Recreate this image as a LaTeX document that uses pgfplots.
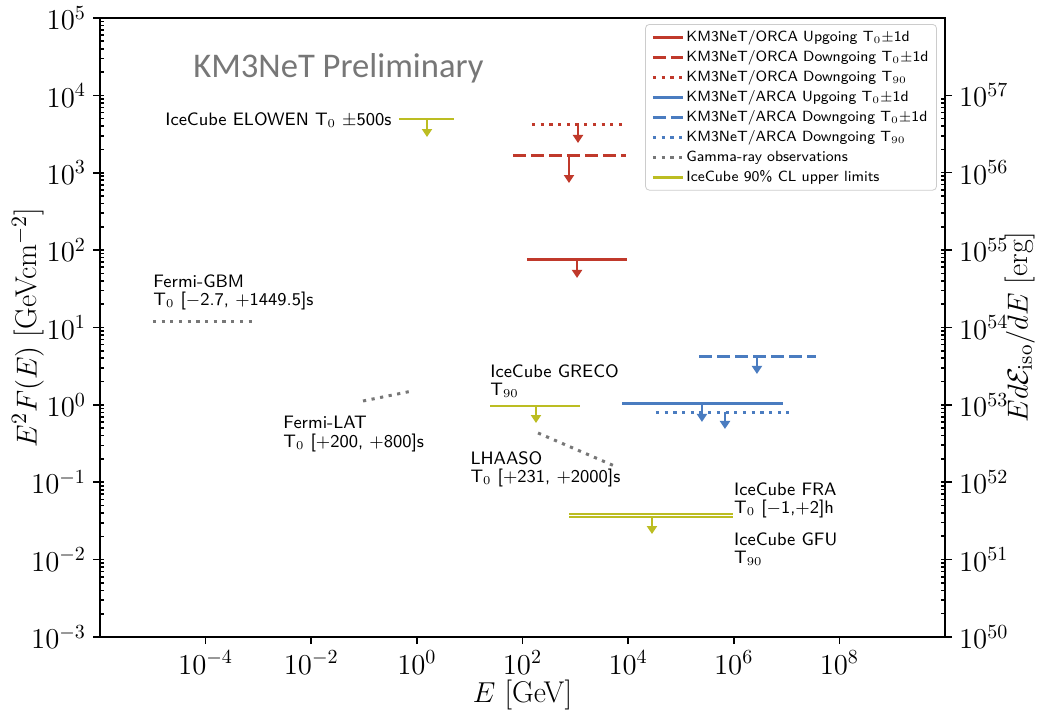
\documentclass[border=0pt]{standalone}
\usepackage{fontspec}
\usepackage{pgfplots}
\pgfplotsset{compat=1.18}
\usetikzlibrary{arrows.meta}
\newfontfamily\carlito{Carlito}
\definecolor{kred}{HTML}{C0392B}
\definecolor{kblue}{HTML}{4A7CC0}
\definecolor{kolive}{HTML}{BCBD22}
\definecolor{kgray}{HTML}{777777}
\tikzset{
  dotpat/.style={dash pattern=on 1.6pt off 2.75pt},
  dashpat/.style={dash pattern=on 6.5pt off 2.5pt},
  arr/.style={line width=1.2pt, -{Triangle[length=4pt,width=5pt]}},
  ann/.style={anchor=west, align=left, inner sep=0pt, font=\fontsize{9.0}{9.3}\sffamily},
}
\begin{document}
\begin{tikzpicture}
\path[use as bounding box] (-50pt,-37.5pt) rectangle (469pt,318.5pt);
\begin{axis}[
  at={(0,0)}, anchor=south west,
  scale only axis, width=422.5pt, height=309.5pt,
  xmode=log, ymode=log,
  xmin=1e-6, xmax=1e10, ymin=1e-3, ymax=1e5,
  xtick={1e-4,1e-2,1,1e2,1e4,1e6,1e8},
  ytick={1e-3,1e-2,1e-1,1,1e1,1e2,1e3,1e4,1e5},
  xminorticks=false,
  xtick pos=bottom, ytick pos=left,
  tick align=outside, major tick length=3.5pt, minor tick length=2pt,
  minor tick style={xshift=2pt},
  tick style={line width=0.8pt, black},
  axis line style={line width=0.9pt},
  ticklabel style={font=\fontsize{14}{16}\selectfont},
  label style={font=\fontsize{15}{17}\selectfont},
  xlabel={$E$ [GeV]},
  ylabel={$E^2F(E)$ [GeVcm$^{-2}$]},
  xlabel style={at={(axis description cs:0.5,-0.093)}, anchor=center},
  ylabel style={at={(axis description cs:-0.0852,0.5)}, anchor=center},
  legend cell align=left,
  legend image code/.code={\draw[#1] (0pt,0pt) -- (15pt,0pt);},
  legend style={at={(0.9905,0.9903)}, anchor=north east,
    draw=black!20, rounded corners=2pt, fill=white,
    font=\fontsize{7.4}{8}\sffamily,
    nodes={inner sep=1pt, text height=5.3pt, text depth=1.6pt},
    row sep=1.1pt, inner xsep=3pt, inner ysep=2pt},
]
% legend series
\addplot[kred, line width=1.5pt] coordinates {(121.6,76.8) (9530,76.8)};
\addlegendentry{KM3NeT/ORCA Upgoing T$_0\pm$1d}
\addplot[kred, line width=1.5pt, dashpat] coordinates {(66,1648) (9120,1648)};
\addlegendentry{KM3NeT/ORCA Downgoing T$_0\pm$1d}
\addplot[kred, line width=1.5pt, dotpat] coordinates {(151,4266) (9120,4266)};
\addlegendentry{KM3NeT/ORCA Downgoing T$_{90}$}
\addplot[kblue, line width=1.5pt] coordinates {(7660,1.057) (8.55e6,1.057)};
\addlegendentry{KM3NeT/ARCA Upgoing T$_0\pm$1d}
\addplot[kblue, line width=1.5pt, dashpat] coordinates {(2.2e5,4.28) (3.6e7,4.28)};
\addlegendentry{KM3NeT/ARCA Downgoing T$_0\pm$1d}
\addplot[kblue, line width=1.5pt, dotpat] coordinates {(3.37e4,0.809) (1.11e7,0.809)};
\addlegendentry{KM3NeT/ARCA Downgoing T$_{90}$}
\addplot[kgray, line width=1.5pt, dotpat] coordinates {(1.0e-5,12.1) (9e-4,12.1)};
\addlegendentry{Gamma-ray observations}
\addplot[kolive, line width=1.3pt] coordinates {(0.459,4955) (5.05,4955)};
\addlegendentry{IceCube 90\% CL upper limits}
% other gamma-ray
\addplot[kgray, line width=1.5pt, dotpat, forget plot] coordinates {(0.0955,1.122) (0.809,1.51)};
\addplot[kgray, line width=1.5pt, dotpat, forget plot] coordinates {(197,0.433) (6170,0.157)};
% other IceCube
\addplot[kolive, line width=1.3pt, forget plot] coordinates {(24.3,0.967) (1227,0.967)};
\addplot[kolive, line width=1pt, forget plot] coordinates {(760,0.0389) (9.7e5,0.0389)};
\addplot[kolive, line width=1pt, forget plot] coordinates {(760,0.0356) (9.7e5,0.0356)};
% arrows
\addplot[kred, arr, forget plot] coordinates {(1077,76.8) (1077,43.7)};
\addplot[kred, arr, forget plot] coordinates {(760,1648) (760,737)};
\addplot[kred, arr, forget plot] coordinates {(1124,4266) (1124,2424)};
\addplot[kblue, arr, forget plot] coordinates {(2.5e5,1.057) (2.5e5,0.601)};
\addplot[kblue, arr, forget plot] coordinates {(2.75e6,4.28) (2.75e6,2.51)};
\addplot[kblue, arr, forget plot] coordinates {(6.82e5,0.809) (6.82e5,0.488)};
\addplot[kolive, arr, forget plot] coordinates {(1.556,4955) (1.556,2897)};
\addplot[kolive, arr, forget plot] coordinates {(180,0.967) (180,0.583)};
\addplot[kolive, arr, forget plot] coordinates {(2.83e4,0.0356) (2.83e4,0.0214)};
% annotations
\node[anchor=west, inner sep=0pt, text=kgray, font=\carlito\fontsize{17.3}{19}\selectfont] at (rel axis cs:0.110,0.918) {KM3NeT Preliminary};
\node[ann] at (rel axis cs:0.0769,0.835) {IceCube ELOWEN T$_0$ $\pm$500s};
\node[ann] at (rel axis cs:0.0627,0.5565) {Fermi-GBM\\T$_0$ [$-$2.7, $+$1449.5]s};
\node[ann] at (rel axis cs:0.2166,0.328) {Fermi-LAT\\T$_0$ [$+$200, $+$800]s};
\node[ann] at (rel axis cs:0.4615,0.4136) {IceCube GRECO\\T$_{90}$};
\node[ann] at (rel axis cs:0.438,0.2706) {LHAASO\\T$_0$ [$+$231, $+$2000]s};
\node[ann] at (rel axis cs:0.750,0.2205) {IceCube FRA\\T$_0$ [$-$1,$+$2]h};
\node[ann] at (rel axis cs:0.750,0.1422) {IceCube GFU\\T$_{90}$};
\end{axis}
\begin{axis}[
  at={(0,0)}, anchor=south west,
  scale only axis, width=422.5pt, height=309.5pt,
  xmode=log, ymode=log,
  xmin=1e-6, xmax=1e10, ymin=1e50, ymax=1e58,
  axis x line=none, axis y line*=right,
  ytick={1e50,1e51,1e52,1e53,1e54,1e55,1e56,1e57},
  tick align=outside, major tick length=3.5pt, minor tick length=2pt,
  minor tick style={xshift=-2pt},
  tick style={line width=0.8pt, black},
  axis line style={line width=0.9pt},
  ticklabel style={font=\fontsize{14}{16}\selectfont},
  label style={font=\fontsize{15}{17}\selectfont},
  ylabel={$Ed\mathcal{E}_{\mathrm{iso}}/dE$ [erg]},
  ylabel style={at={(axis description cs:1.0888,0.5)}, anchor=center},
]
\addplot[draw=none] coordinates {(1,1e52)};
\end{axis}
\end{tikzpicture}
\end{document}
